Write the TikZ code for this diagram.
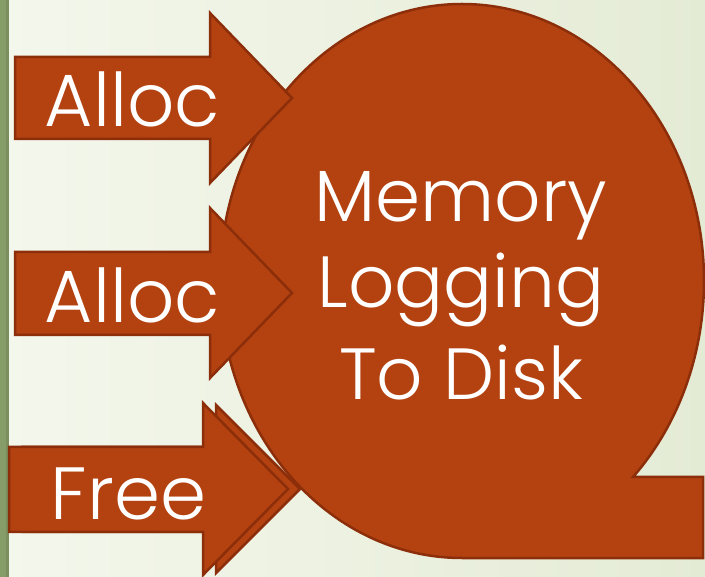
\documentclass[tikz,border=0pt]{standalone}
\usepackage{fontspec}
\setmainfont{Poppins}[UprightFont=* Light]
\definecolor{bgleft}{RGB}{244,247,236}
\definecolor{bgright}{RGB}{228,235,213}
\definecolor{barg}{RGB}{134,156,105}
\definecolor{bardark}{RGB}{122,143,93}
\definecolor{rust}{RGB}{180,66,17}
\definecolor{rustline}{RGB}{140,46,10}
\tikzset{
  shapefill/.style={fill=rust, draw=rustline, line width=2.5pt, line join=miter},
  bigtext/.style={text=white, font=\fontsize{74}{80}\selectfont, anchor=base, inner sep=0pt},
  midtext/.style={text=white, font=\fontsize{72.5}{80}\selectfont, anchor=base, inner sep=0pt}
}
\begin{document}
\begin{tikzpicture}[x=1pt, y=-1pt]
\useasboundingbox (0,0) rectangle (705,577);
% background
\shade[left color=bgleft, right color=bgright] (0,0) rectangle (705,577);
\fill[barg] (0,0) rectangle (6,577);
\fill[bardark] (6,0) rectangle (9,577);
% memory shape (magnetic tape)
\draw[shapefill] (462,558) arc[start angle=90, end angle=405, x radius=242, y radius=277]
  -- (703,476.9) -- (703,558) -- cycle;
% arrows
\draw[shapefill] (15,57) -- (210,57) -- (210,13) -- (292,98) -- (210,183) -- (210,139) -- (15,139) -- cycle;
\draw[shapefill] (15,252) -- (210,252) -- (210,208) -- (292,293) -- (210,378) -- (210,335) -- (15,335) -- cycle;
\draw[shapefill] (22,447) -- (216,447) -- (216,405) -- (300,489) -- (216,573) -- (216,532) -- (22,532) -- cycle;
\draw[shapefill] (9,447) -- (203,447) -- (203,403) -- (288,489) -- (203,575) -- (203,532) -- (9,532) -- cycle;
% texts
\node[bigtext] (a1) at (132.5,127) {Alloc};
\node[bigtext] (a2) at (132.5,323) {Alloc};
\node[bigtext] (fr) at (128.5,519) {Free};
\node[midtext] (m1) at (461,222) {Memory};
\node[midtext] (m2) at (461,308) {Logging};
\node[midtext] (m3) at (461,400) {To Disk};
\end{tikzpicture}
\end{document}
